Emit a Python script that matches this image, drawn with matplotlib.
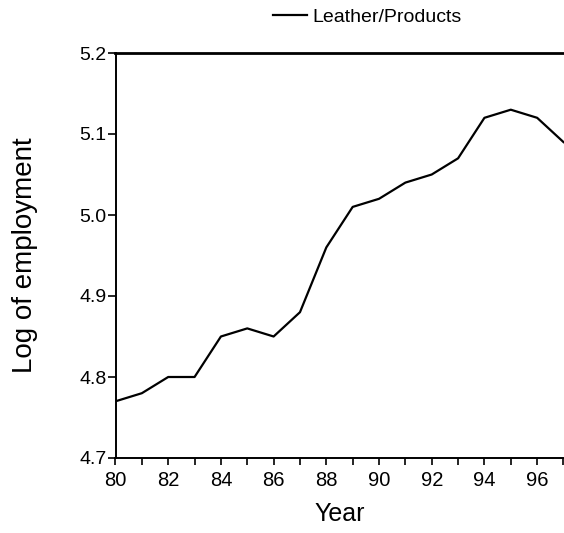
import matplotlib
matplotlib.use("Agg")
import matplotlib.pyplot as plt
from matplotlib.ticker import MultipleLocator

plt.rcParams['font.family'] = ['Liberation Sans', 'DejaVu Sans']

# data
years = [80, 81, 82, 83, 84, 85, 86, 87, 88, 89, 90, 91, 92, 93, 94, 95, 96, 97]
log_emp = [4.77, 4.78, 4.80, 4.80, 4.85, 4.86, 4.85, 4.88, 4.96, 5.01,
           5.02, 5.04, 5.05, 5.07, 5.12, 5.13, 5.12, 5.09]
series_name = 'Leather/Products'
yticks = [4.7, 4.8, 4.9, 5.0, 5.1, 5.2]
ytick_labels = ['4.7', '4.8', '4.9', '5.0', '5.1', '5.2']

fig = plt.figure(figsize=(5.64, 5.33), dpi=100)
ax = fig.add_axes([115.5 / 564, 75 / 533, 448 / 564, 405 / 533])

ax.plot(years, log_emp, color='black', linewidth=1.6, label=series_name)

ax.set_xlim(80, 97)
ax.set_ylim(4.7, 5.2)
ax.xaxis.set_major_locator(MultipleLocator(2))
ax.xaxis.set_minor_locator(MultipleLocator(1))
ax.set_yticks(yticks)
ax.set_yticklabels(ytick_labels)

ax.tick_params(axis='both', which='both', direction='out', length=5,
               width=1.2, labelsize=14, pad=0.5, color='black')
ax.tick_params(axis='y', length=6)
ax.tick_params(axis='x', which='major', labelsize=14.5, pad=4)

for side in ['left', 'bottom']:
    ax.spines[side].set_linewidth(1.4)
ax.spines['top'].set_linewidth(2.0)
ax.spines['right'].set_visible(False)

ax.set_xlabel('Year', fontsize=18, labelpad=9)
ax.set_ylabel('Log of employment', fontsize=20, labelpad=30)

fig.legend(loc='center left', bbox_to_anchor=(273 / 564, 1 - 17 / 533),
           frameon=False, fontsize=14, handlelength=1.75, handletextpad=0.3,
           borderpad=0, borderaxespad=0)

fig.savefig('out.png', dpi=100)
